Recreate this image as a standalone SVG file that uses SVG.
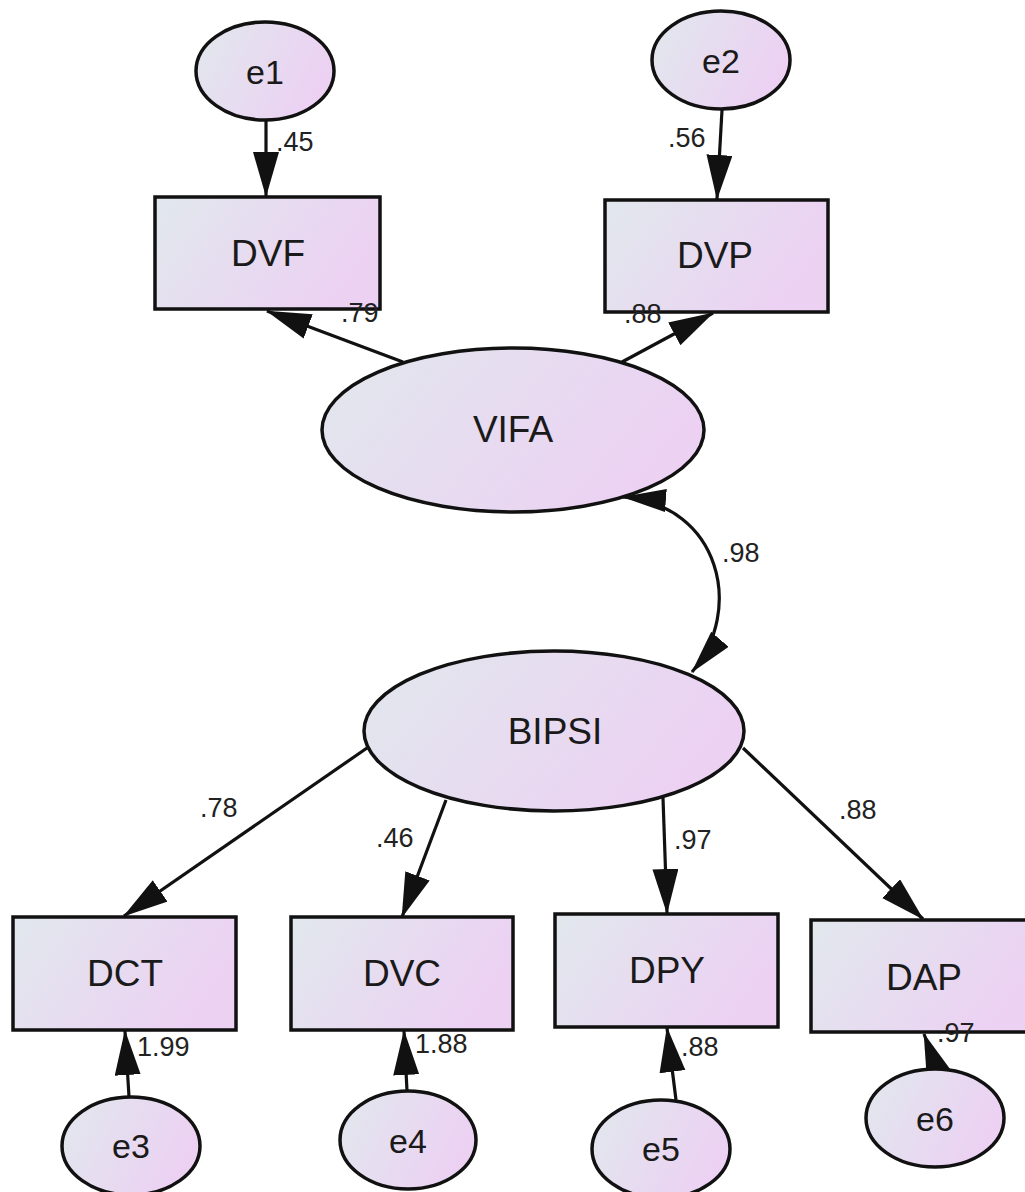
<svg xmlns="http://www.w3.org/2000/svg" width="1025" height="1192" viewBox="0 0 1025 1192">
<defs>
<linearGradient id="fill" x1="0" y1="0" x2="1" y2="0.35">
<stop offset="0" stop-color="#e1e8ed"/>
<stop offset="1" stop-color="#ecd1f3"/>
</linearGradient>
<marker id="arr" markerUnits="userSpaceOnUse" markerWidth="48" markerHeight="28" refX="44" refY="13" orient="auto-start-reverse" viewBox="0 0 48 28">
<path d="M0,0 L45,13 L0,26 z" fill="#111"/>
</marker>
<marker id="arr2" markerUnits="userSpaceOnUse" markerWidth="48" markerHeight="26" refX="43" refY="11.5" orient="auto-start-reverse" viewBox="0 0 48 26">
<path d="M0,0 L44,11.5 L0,23 z" fill="#111"/>
</marker>
</defs>
<style>
.n{fill:url(#fill);stroke:#111;stroke-width:3.5}
.t{font-family:"Liberation Sans",Arial,sans-serif;font-size:37px;fill:#1a1a1a;text-anchor:middle}
.te{font-family:"Liberation Sans",Arial,sans-serif;font-size:34px;fill:#1a1a1a;text-anchor:middle}
.l{font-family:"Liberation Sans",Arial,sans-serif;font-size:27px;fill:#222}
.c{stroke:#111;stroke-width:3.2;fill:none;marker-end:url(#arr)}
</style>
<rect width="1025" height="1192" fill="#fff"/>
<g id="connectors">
<line class="c" x1="266" y1="120" x2="266" y2="196"/>
<line class="c" x1="722" y1="110" x2="717" y2="199"/>
<line class="c" x1="403" y1="362" x2="267" y2="311"/>
<line class="c" x1="622" y1="362" x2="713" y2="313"/>
<path d="M 623 497 C 720 505, 745 610, 692 672" stroke="#111" stroke-width="3.2" fill="none" marker-start="url(#arr2)" marker-end="url(#arr2)"/>
<line class="c" x1="367" y1="748" x2="124" y2="916"/>
<line class="c" x1="446" y1="800" x2="402" y2="917"/>
<line class="c" x1="663" y1="798" x2="667" y2="913"/>
<line class="c" x1="743" y1="748" x2="923" y2="919"/>
<line class="c" x1="129" y1="1097" x2="125" y2="1031"/>
<line class="c" x1="407" y1="1091" x2="404" y2="1031"/>
<line class="c" x1="676" y1="1100" x2="667" y2="1028"/>
<line class="c" x1="939" y1="1075" x2="924" y2="1034"/>
</g>
<g id="e1"><ellipse class="n" cx="265" cy="71" rx="69" ry="49"/><text class="te" x="265" y="84">e1</text></g>
<g id="e2"><ellipse class="n" cx="721" cy="60" rx="69" ry="49"/><text class="te" x="721" y="73">e2</text></g>
<g id="DVF"><rect class="n" x="155" y="197" width="225" height="112"/><text class="t" x="268" y="266">DVF</text></g>
<g id="DVP"><rect class="n" x="605" y="200" width="223" height="112"/><text class="t" x="715" y="268">DVP</text></g>
<g id="VIFA"><ellipse class="n" cx="513" cy="430" rx="191" ry="82"/><text class="t" x="513" y="442">VIFA</text></g>
<g id="BIPSI"><ellipse class="n" cx="554" cy="731" rx="190" ry="80"/><text class="t" x="555" y="744">BIPSI</text></g>
<g id="DCT"><rect class="n" x="13" y="917" width="223" height="113"/><text class="t" x="125" y="986">DCT</text></g>
<g id="DVC"><rect class="n" x="291" y="917" width="222" height="113"/><text class="t" x="402" y="986">DVC</text></g>
<g id="DPY"><rect class="n" x="555" y="914" width="223" height="113"/><text class="t" x="667" y="983">DPY</text></g>
<g id="DAP"><rect class="n" x="811" y="920" width="230" height="112"/><text class="t" x="924" y="990">DAP</text></g>
<g id="e3"><ellipse class="n" cx="131" cy="1146" rx="69" ry="49"/><text class="te" x="131" y="1158">e3</text></g>
<g id="e4"><ellipse class="n" cx="408" cy="1140" rx="68" ry="49"/><text class="te" x="408" y="1153">e4</text></g>
<g id="e5"><ellipse class="n" cx="661" cy="1149" rx="69" ry="49"/><text class="te" x="661" y="1161">e5</text></g>
<g id="e6"><ellipse class="n" cx="935" cy="1118" rx="69" ry="49"/><text class="te" x="935" y="1131">e6</text></g>
<g id="labels">
<text class="l" x="276" y="151">.45</text>
<text class="l" x="668" y="147">.56</text>
<text class="l" x="341" y="322">.79</text>
<text class="l" x="624" y="323">.88</text>
<text class="l" x="722" y="562">.98</text>
<text class="l" x="200" y="817">.78</text>
<text class="l" x="376" y="847">.46</text>
<text class="l" x="674" y="849">.97</text>
<text class="l" x="839" y="819">.88</text>
<text class="l" x="137" y="1056">1.99</text>
<text class="l" x="415" y="1053">1.88</text>
<text class="l" x="681" y="1056">.88</text>
<text class="l" x="937" y="1042">.97</text>
</g>
</svg>
